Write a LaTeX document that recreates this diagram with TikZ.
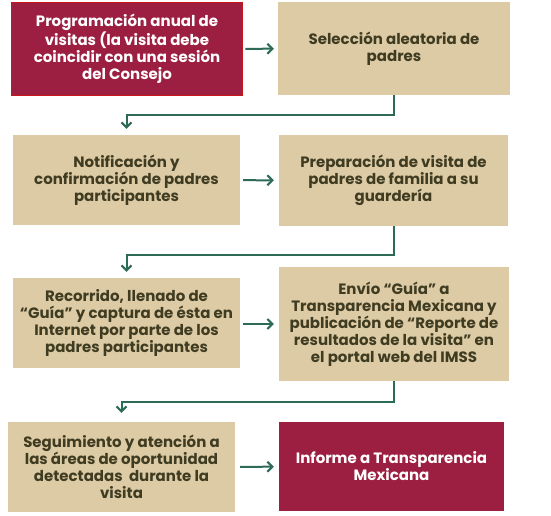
\documentclass[tikz,border=0pt]{standalone}
\usepackage{fontspec}
\setmainfont{Poppins}
\usepackage{tikz}
\usetikzlibrary{arrows.meta, positioning}
\definecolor{beige}{HTML}{DCCBA5}
\definecolor{vino}{HTML}{9C1F41}
\definecolor{rojo}{HTML}{C8161D}
\definecolor{olivo}{HTML}{403C22}
\definecolor{verde}{HTML}{2D6A58}
\tikzset{
  paso/.style={rectangle, fill=beige, text=olivo, align=center, font=\bfseries\fontsize{15}{17}\selectfont, inner sep=0pt},
  meta/.style={paso, fill=vino, text=white},
  flecha/.style={verde, line width=2pt, -{Straight Barb[length=5pt,width=10pt]}}
}
\begin{document}
\begin{tikzpicture}[x=1pt,y=-1pt]
\useasboundingbox (0,0) rectangle (551,515);
\node[meta, draw=rojo, line width=1.5pt, minimum width=231pt, minimum height=93pt] at (127,49) (Prog) {Programación anual de\\visitas (la visita debe\\coincidir con una sesión\\del Consejo};
\node[paso, minimum width=232pt, minimum height=93pt] at (394,48.5) (Sel) {Selección aleatoria de\\padres};
\node[paso, minimum width=227pt, minimum height=90pt] at (126.5,180) (Not) {Notificación y\\confirmación de padres\\participantes};
\node[paso, minimum width=229pt, minimum height=91pt] at (393.5,180.5) (Prep) {Preparación de visita de\\padres de familia a su\\guardería};
\node[paso, minimum width=227pt, minimum height=90pt] at (126.5,323) (Rec) {Recorrido, llenado de\\“Guía” y captura de ésta en\\Internet por parte de los\\padres participantes};
\node[paso, minimum width=230pt, minimum height=114pt] at (394,324) (Env) {Envío “Guía” a\\Transparencia Mexicana y\\publicación de “Reporte de\\resultados de la visita” en\\el portal web del IMSS};
\node[paso, minimum width=227pt, minimum height=90pt] at (121.5,467) (Seg) {Seguimiento y atención a\\las áreas de oportunidad\\detectadas\ \ durante la\\visita};
\node[meta, minimum width=225pt, minimum height=89pt] at (391.5,466.5) (Inf) {Informe a Transparencia\\Mexicana};
% flechas
\draw[flecha, shorten <=2pt, shorten >=4pt] (Prog) -- (Sel);
\draw[flecha, shorten <=3pt, shorten >=5pt] (Not) -- (Prep);
\draw[flecha, shorten <=3pt, shorten >=5pt] (Rec.east |- Env) -- (Env);
\draw[flecha, shorten <=5pt, shorten >=5pt] (Seg) -- (Inf);
\draw[flecha, shorten >=6pt] (Sel.south) -- ++(0,20) -| (Not.north);
\draw[flecha, shorten >=6pt] (Prep.south) -- ++(0,29) -| (Rec.north);
\draw[flecha, shorten >=9pt] (Env.south) -- ++(0,21) -| (Seg.north);
\end{tikzpicture}
\end{document}
